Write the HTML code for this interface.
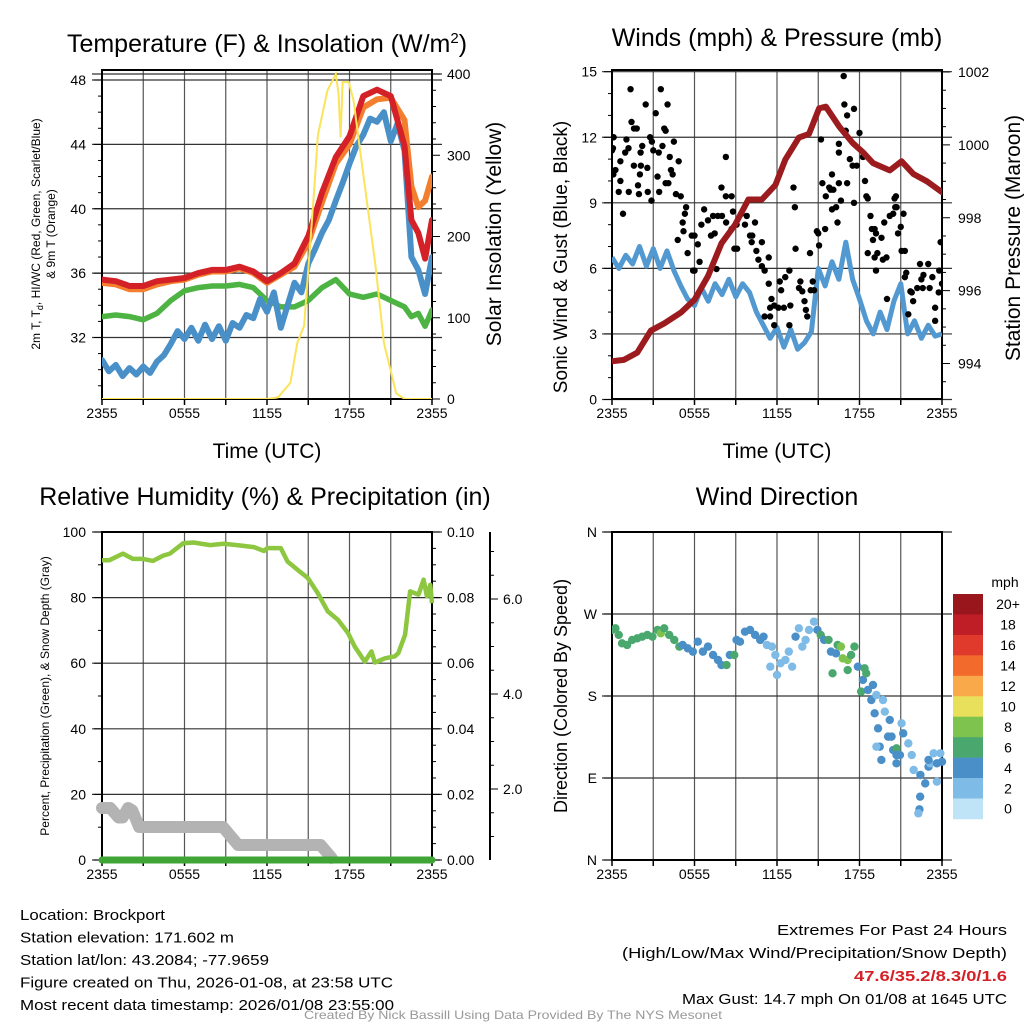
<!DOCTYPE html>
<html><head><meta charset="utf-8"><title>Mesonet Meteogram</title>
<style>
html,body{margin:0;padding:0;background:#fff;}
svg{display:block;font-family:"Liberation Sans",Arial,sans-serif;}
</style></head>
<body>
<svg id="chart" width="1024" height="1024" viewBox="0 0 1024 1024" xmlns="http://www.w3.org/2000/svg"></svg>
<script>
// ===== Panel 1 data: temperatures (F) and insolation =====
const tHours = [0,1,2,3,4,5,6,7,8,9,10,11,12,13,14,15,16,17,18,19,20,21,22,22.5,23,23.5,24];
const tempRed = [35.6,35.5,35.2,35.2,35.5,35.6,35.7,36.0,36.2,36.2,36.4,36.1,35.5,36.0,36.6,38.3,41.0,43.2,44.5,47.0,47.4,47.0,43.9,39.3,38.5,36.9,39.3];
const tempOrange = [35.4,35.3,35.0,35.0,35.3,35.5,35.6,35.9,36.1,36.1,36.3,36.0,35.4,35.9,36.4,37.9,40.4,42.8,44.0,46.3,46.8,46.9,45.5,41.4,40.1,40.5,42.0];
const tempGreen = [33.3,33.4,33.3,33.1,33.5,34.3,34.9,35.1,35.2,35.2,35.3,35.1,34.3,33.9,33.9,34.3,35.1,35.6,34.7,34.5,34.7,34.3,33.9,33.3,33.5,32.7,33.7];
const blueHours = [0,0.5,1,1.5,2,2.5,3,3.5,4,4.5,5,5.5,6,6.5,7,7.5,8,8.5,9,9.5,10,10.5,11,11.5,12,12.5,13,13.5,14,14.5,15,15.5,16,16.5,17,17.5,18,18.5,19,19.5,20,20.5,21,21.5,22,22.5,23,23.5,24];
const tempBlue = [30.6,29.9,30.3,29.6,30.1,29.7,30.2,29.8,30.5,30.9,31.6,32.4,31.9,32.6,31.8,32.8,31.9,32.7,31.8,32.9,32.6,33.4,33.2,34.4,33.6,34.8,32.6,34.0,35.4,34.8,36.6,37.5,38.5,39.3,40.5,41.6,42.8,43.9,44.6,45.6,45.4,46.0,44.2,45.3,43.6,37.0,36.2,34.7,37.0];
const solHours = [0,12,12.8,13.7,14.2,14.7,15.4,15.7,16.4,17.0,17.2,17.35,17.5,17.95,18.3,18.7,19.9,20.5,21.4,22,24];
const solar = [0,0,2,20,69,90,251,325,380,400,376,322,390,390,367,315,163,69,7,0,0];
const p1Ticks = [32,36,40,44,48];
const p1RTicks = [0,100,200,300,400];
const xTickHours = [0,6,12,18,24];
const xTickLabels = ["2355","0555","1155","1755","2355"];

// ===== Panel 2 data: wind, gust, pressure =====
const windHours = [0,0.5,1,1.5,2,2.5,3,3.5,4,4.5,5,5.5,6,6.5,7,7.5,8,8.5,9,9.5,10,10.5,11,11.5,12,12.5,13,13.5,14,14.5,15,15.5,16,16.5,17,17.5,18,18.5,19,19.5,20,20.5,21,21.5,22,22.5,23,23.5,24];
const wind = [6.5,6.0,6.6,6.2,7.0,6.1,6.9,6.0,6.8,5.9,5.2,4.6,4.3,5.1,4.5,5.3,4.8,5.5,4.7,5.3,4.9,4.0,3.4,2.8,3.3,2.4,3.2,2.3,2.6,3.1,6.0,5.2,6.3,5.5,7.2,5.5,4.6,3.6,3.0,4.0,3.2,4.5,5.3,3.0,3.6,2.8,3.4,2.9,3.0];
const gustH = [1.35,3.55,2.45,4.04,3.18,1.42,1.6,1.8,3.8,3.9,0.12,0,0.07,1.05,2.77,4.5,2.9,3.67,0.96,1.2,2.2,2.08,3.0,3.4,4.2,0.61,4.85,1.59,2.1,2.57,4.29,0.25,0.1,0.61,2.03,3.31,4.41,1.89,3.9,4.1,0.49,1.22,1.96,2.6,3.43,2.87,4.65,5.0,0.8,8.28,7.96,8.28,8.7,
5.39,5.3,5.14,4.78,5.2,5.8,6.0,6.7,6.5,6.98,7.35,7.47,7.2,7.7,8.0,8.3,6.24,6.37,6.0,5.9,5.5,7.6,8.9,9.1,8.7,8.8,9.06,9.4,9.67,9.8,10.04,10.2,10.16,10.4,10.9,10.5,10.65,11.4,10.9,11.1,11.4,11.6,11.5,11.8,11.1,11.5,11.8,12.2,12.3,12.6,12.9,12.1,12.5,12.97,12.9,13.35,13.3,13.2,13.6,13.7,13.84,14.1,14.2,14.0,14.4,14.45,14.7,14.6,15.0,15.06,14.9,
15.2,15.3,15.5,15.55,15.8,16.0,15.9,16.0,16.1,16.3,16.4,16.5,16.5,16.5,16.65,16.85,16.9,17.0,17.1,17.3,17.1,17.6,17.5,17.8,17.6,18.0,18.25,18.5,18.6,18.8,18.4,18.6,18.9,19.1,18.98,19.2,19.1,19.2,19.3,19.7,19.6,19.8,19.96,20.0,20.2,20.45,20.6,20.65,20.55,20.8,20.7,21.06,21.0,21.2,21.3,21.3,21.4,21.55,21.7,21.8,21.9,22.2,22.4,22.5,22.65,22.6,23.0,23.1,23.3,23.5,23.5,23.8,23.76,24.0,23.9];
const gustV = [14.2,14.2,13.5,13.5,13.1,12.7,12.4,12.4,12.4,12.3,12.0,11.4,11.5,11.9,12.0,11.8,11.8,11.6,11.3,11.5,11.6,11.3,11.4,11.3,11.1,10.9,10.9,10.7,10.7,10.6,10.5,10.5,10.3,10.0,10.3,10.2,10.3,9.8,9.9,9.9,9.5,9.5,9.4,9.5,9.5,9.1,9.4,9.3,8.5,11.1,9.7,9.3,9.3,
8.8,8.5,8.1,7.3,7.7,7.5,7.5,8.7,8.0,8.2,8.4,7.6,7.5,8.4,8.4,8.1,7.1,6.3,5.9,5.9,6.7,5.97,6.9,6.9,7.8,8.6,8.0,8.5,8.0,8.4,7.5,7.5,7.2,8.1,7.2,6.8,6.4,6.5,6.1,5.9,5.3,4.6,4.2,4.3,3.8,3.8,3.4,5.4,5.0,5.6,5.9,4.2,4.2,4.3,3.4,6.9,8.8,9.7,5.1,5.4,4.95,4.1,3.8,4.5,6.7,5.0,5.0,5.4,7.6,7.05,7.7,
11.9,9.9,7.8,9.3,9.7,10.3,9.6,8.7,9.6,8.8,8.1,9.9,11.3,11.7,9.1,14.8,13.5,12.3,13.0,11.0,9.9,13.3,10.7,10.7,9.0,12.2,11.1,9.3,9.2,8.4,10.0,6.7,7.8,7.8,7.3,7.6,6.5,5.9,6.7,6.4,7.4,8.1,6.5,4.6,8.4,8.5,8.8,9.3,9.2,7.6,8.8,6.8,7.9,8.5,6.8,5.6,5.8,3.9,4.95,4.9,4.5,5.1,6.2,5.5,5.7,5.1,6.2,5.1,5.6,4.2,3.6,5.9,4.9,5.3,7.2];
const presHours = [0,0.86,1.84,2.82,3.8,5.02,6.0,6.98,7.96,8.94,9.92,10.9,11.88,12.61,13.59,14.33,15.06,15.55,16.53,17.51,18.25,18.98,20.2,21.06,21.92,22.9,24];
const pressure = [994.06,994.1,994.3,994.9,995.1,995.4,995.75,996.4,997.3,997.8,998.5,998.5,998.9,999.6,1000.2,1000.3,1001.0,1001.05,1000.5,1000.05,999.8,999.5,999.3,999.55,999.2,999.0,998.7];
const p2Ticks = [0,3,6,9,12,15];
const p2RTicks = [994,996,998,1000,1002];

// ===== Panel 3 data: RH, precip, snow depth =====
const rhHours = [0,0.54,1.52,2.25,2.98,3.71,4.45,4.94,5.91,6.65,7.87,8.85,9.82,11.05,11.78,12.02,13.0,13.49,14.22,14.96,15.69,16.42,17.16,17.89,18.38,19.11,19.6,19.84,20.58,21.31,21.56,22.04,22.41,23.02,23.39,23.63,23.88,24];
const rh = [91.4,91.4,93.4,91.8,91.8,91.2,92.8,93.4,96.6,96.8,96.0,96.4,96.0,95.4,94.2,95.1,95.1,91.0,88.5,86.0,81.4,75.8,73.2,69.2,65.1,60.5,63.6,60.2,61.5,62.1,63.1,68.7,81.9,80.9,85.5,80.4,83.9,78.3];
const precipHours = [0,24];
const precip = [0,0];
const snowHours = [0,0.6,1.2,1.5,1.9,2.2,2.7,8.8,9.9,15.9,16.7];
const snowDepth = [1.6,1.6,1.4,1.4,1.6,1.55,1.2,1.2,0.82,0.82,0.55];
const p3Ticks = [0,20,40,60,80,100];
const p3RTicks = [0.00,0.02,0.04,0.06,0.08,0.10];
const snowTicks = [2.0,4.0,6.0];

// ===== Panel 4 data: wind direction colored by speed =====
const dirHours = [0,0.25,0.49,0.73,1.10,1.47,1.84,2.20,2.57,2.94,3.31,3.55,3.80,4.16,4.53,4.90,5.14,5.51,5.88,6.24,6.61,6.98,7.35,7.71,7.96,8.33,8.57,8.89,9.06,9.31,9.67,10.04,10.41,10.78,11.02,11.27,11.63,11.88,11.51,12.0,12.25,12.61,12.86,13.1,13.35,13.59,13.84,14.08,14.33,14.69,14.94,15.18,15.43,15.75,15.92,16.04,16.29,16.41,16.65,16.78,17.14,17.14,17.39,17.63,17.88,18.12,18.25,18.37,18.49,18.61,18.86,18.98,19.23,19.10,19.71,19.84,19.35,20.2,20.08,20.33,21.06,21.18,19.47,19.23,20.45,20.69,20.69,20.94,21.55,21.8,19.59,20.69,21.94,22.43,22.78,23.02,23.14,23.39,23.88,24.0,23.63,22.41,22.36,22.28,23.02,23.63];
const dirDeg = [252.5,254.3,247.0,237.8,236.0,241.5,243.3,245.1,247.0,245.1,252.5,248.8,254.3,247.0,241.5,234.2,236.0,232.3,228.7,239.6,228.7,234.2,225.0,219.5,214.0,214.0,225.0,225.0,241.5,239.6,250.6,252.5,247.0,241.5,245.1,236.0,234.2,225.0,212.2,203.1,215.9,219.5,228.7,212.2,245.1,254.3,234.2,241.5,252.5,261.6,252.5,247.0,241.5,241.5,228.7,204.9,226.8,236.0,234.2,221.3,219.5,208.5,225.0,234.2,212.2,184.8,197.6,210.4,204.9,186.6,175.6,192.1,181.1,161.0,175.6,162.8,144.5,153.7,135.4,135.4,150.0,139.0,124.4,124.4,120.7,122.6,115.2,115.2,128.0,115.2,109.8,106.1,98.8,93.3,84.1,102.4,106.1,117.1,117.1,107.9,86.0,69.5,55.6,51.2,109.8,106.1];
const dirSpeed = [6,6,6,6,6,6,6,6,6,6,6,8,6,6,6,6,4,4,4,4,4,4,4,4,4,6,4,6,4,4,4,4,4,4,4,2,2,2,2,2,2,2,2,2,4,2,2,2,2,2,4,6,4,6,4,6,4,6,8,8,8,6,6,6,4,6,4,6,6,4,4,4,2,4,2,2,4,4,4,4,2,4,4,2,4,6,4,4,2,2,4,4,2,4,4,4,2,2,2,4,2,4,4,2,4,4];
const dirTickDeg = [0,90,180,270,360];
const dirTickLabels = ["N","E","S","W","N"];
const cbLabels = ["20+","18","16","14","12","10","8","6","4","2","0"];
const cbColors = ["#99161c","#bf1e26","#e03a2c","#f26a2c","#f9a84a","#e8e05a","#7ec34e","#4aa86e","#4a8fc7","#7ebbe6","#bfe4f7"];

// ===== helpers =====
const NS = "http://www.w3.org/2000/svg";
const svg = document.getElementById("chart");
function mk(tag, attrs, parent){
  const e = document.createElementNS(NS, tag);
  for (const k in attrs) e.setAttribute(k, attrs[k]);
  (parent||svg).appendChild(e);
  return e;
}
function txt(str, x, y, size, anchor, parent, extra){
  const a = {x:x, y:y, "font-size":size, "text-anchor":anchor||"middle", fill:"#000"};
  if (extra) for (const k in extra) a[k]=extra[k];
  const t = mk("text", a, parent);
  t.textContent = str;
  return t;
}
function lin(d0,d1,r0,r1){ return v => r0 + (v-d0)*(r1-r0)/(d1-d0); }
function pathFrom(xs, ys, fx, fy){
  let d=""; for(let i=0;i<xs.length;i++){ d += (i?"L":"M")+fx(xs[i]).toFixed(1)+","+fy(ys[i]).toFixed(1); } return d;
}
function grid(g, L, R, T, B, fx, hLines){
  for (let h=3; h<24; h+=3){
    const l = mk("line",{x1:fx(h),x2:fx(h),y1:T,y2:B,stroke:"#555","stroke-width":1.2},g);
    
    
  }
  hLines.forEach(y=>{
    const l = mk("line",{x1:L-10,x2:R+10,y1:y,y2:y,stroke:"#333","stroke-width":1.2},g);
    
    
  });
}
function frame(g, L, R, T, B){
  const r = mk("rect",{x:L,y:T,width:R-L,height:B-T,fill:"none",stroke:"#000","stroke-width":2},g);
  
  
}
function xAxis(g, L, R, B, fx){
  for (let h=0; h<=24; h+=3){
    mk("line",{x1:fx(h),x2:fx(h),y1:B,y2:B+6,stroke:"#000","stroke-width":1.5},g);
  }
  xTickHours.forEach((h,i)=>{
    const t = txt(xTickLabels[i], fx(h), B+19, 14, "middle", g);
    
    
  });
}

// ===== Panel 1 =====
(function(){
  const L=102,R=432,T=70,B=399;
  const g = mk("g",{});
  
  
  const fx = lin(0,24,L,R);
  const fy = lin(32,48,337.5,80);
  const fs = lin(0,400,399,74);
  grid(g,L,R,T,B,fx,p1Ticks.map(fy).concat([74]));
  frame(g,L,R,T,B);
  xAxis(g,L,R,B,fx);
  for (let v=29; v<=48; v++){ mk("line",{x1:L-(v%4===0?8:4),x2:L,y1:fy(v),y2:fy(v),stroke:"#000","stroke-width":1},g); }
  p1Ticks.forEach(v=>{ const t=txt(String(v),86,fy(v)+5,14,"end",g);   });
  for (let v=0; v<=400; v+=20){ mk("line",{x1:R,x2:R+(v%100===0?8:4),y1:fs(v),y2:fs(v),stroke:"#000","stroke-width":1},g); }
  p1RTicks.forEach(v=>{ const t=txt(String(v),447,fs(v)+5,14,"start",g);   });
  const clip = mk("clipPath",{id:"c1"},g); mk("rect",{x:L,y:T,width:R-L,height:B-T},clip);
  const sg = mk("g",{"clip-path":"url(#c1)"},g);
  const series = [[tHours,tempGreen,"#4db343","temp-green-line",5.5],[blueHours,tempBlue,"#4a90c8","temp-blue-line",6],[tHours,tempOrange,"#f37f2e","temp-orange-line",6],[tHours,tempRed,"#d42127","temp-red-line",6]];
  series.forEach(s=>{
    const p = mk("path",{d:pathFrom(s[0],s[1],fx,fy),fill:"none",stroke:s[2],"stroke-width":s[4],"stroke-linejoin":"round","stroke-linecap":"round"},sg);
    
    
  });
  const ps = mk("path",{d:pathFrom(solHours,solar,fx,fs),fill:"none",stroke:"#fbe35a","stroke-width":2},sg);
  
  
  const title = mk("text",{x:267,y:52,"font-size":25,"text-anchor":"middle"},g);
  title.innerHTML = 'Temperature (F) &amp; Insolation (W/m<tspan dy="-9" font-size="15">2</tspan><tspan dy="9">)</tspan>';
  
  
  const xt = txt("Time (UTC)",267,458,21,"middle",g);  
  const yt = mk("text",{transform:"translate(40,234) rotate(-90)","font-size":12,"text-anchor":"middle"},g);
  yt.innerHTML = '2m T, T<tspan dy="3" font-size="9">d</tspan><tspan dy="-3">, HI/WC (Red, Green, Scarlet/Blue)</tspan>';
  
  
  const yt2 = txt("& 9m T (Orange)",0,0,12,"middle",g,{transform:"translate(55,234) rotate(-90)"});
  
  
  const rt = txt("Solar Insolation (Yellow)",0,0,21,"middle",g,{transform:"translate(501,234) rotate(-90)"});
  
  
})();

// ===== Panel 2 =====
(function(){
  const L=612,R=942,T=70,B=399;
  const g = mk("g",{});
  
  
  const fx = lin(0,24,L,R);
  const fy = lin(0,15,399.5,71.7);
  const fp = lin(994,1002,363.5,72);
  grid(g,L,R,T,B,fx,p2Ticks.map(fy));
  frame(g,L,R,T,B);
  xAxis(g,L,R,B,fx);
  for (let v=0; v<=15; v++){ mk("line",{x1:L-(v%3===0?8:4),x2:L,y1:fy(v),y2:fy(v),stroke:"#000","stroke-width":1},g); }
  p2Ticks.forEach(v=>{ const t=txt(String(v),597,fy(v)+5,14,"end",g);   });
  for (let v=993; v<=1002; v+=0.5){ if(fp(v)<=B) mk("line",{x1:R,x2:R+(v%2===0?8:4),y1:fp(v),y2:fp(v),stroke:"#000","stroke-width":1},g); }
  p2RTicks.forEach(v=>{ const t=txt(String(v),958,fp(v)+5,14,"start",g);   });
  const clip = mk("clipPath",{id:"c2"},g); mk("rect",{x:L,y:T,width:R-L,height:B-T},clip);
  const sg = mk("g",{"clip-path":"url(#c2)"},g);
  const pw = mk("path",{d:pathFrom(windHours,wind,fx,fy),fill:"none",stroke:"#5298d1","stroke-width":5,"stroke-linejoin":"round"},sg);
  
  
  gustH.forEach((h,i)=>{
    const c = mk("circle",{cx:fx(h),cy:fy(gustV[i]),r:3.2,fill:"#000"},sg);
    
    
  });
  const pp = mk("path",{d:pathFrom(presHours,pressure,fx,fp),fill:"none",stroke:"#9b1b1e","stroke-width":6,"stroke-linejoin":"round","stroke-linecap":"round"},sg);
  
  
  const title = txt("Winds (mph) & Pressure (mb)",777,46,25,"middle",g);  
  const xt = txt("Time (UTC)",777,458,21,"middle",g);  
  const yt = txt("Sonic Wind & Gust (Blue, Black)",0,0,19,"middle",g,{transform:"translate(567,257) rotate(-90)"});  
  const rt = txt("Station Pressure (Maroon)",0,0,21,"middle",g,{transform:"translate(1020,238) rotate(-90)"});  
})();

// ===== Panel 3 =====
(function(){
  const L=102,R=432,T=532,B=860;
  const g = mk("g",{});
  
  
  const fx = lin(0,24,L,R);
  const fy = lin(0,100,B,T);
  const fr = lin(0,0.10,B,T);
  const fsn = lin(0,6,884,599);
  grid(g,L,R,T,B,fx,p3Ticks.map(fy));
  frame(g,L,R,T,B);
  xAxis(g,L,R,B,fx);
  for (let v=0; v<=100; v+=10){ mk("line",{x1:L-(v%20===0?8:4),x2:L,y1:fy(v),y2:fy(v),stroke:"#000","stroke-width":1},g); }
  p3Ticks.forEach(v=>{ const t=txt(String(v),86,fy(v)+5,14,"end",g);   });
  for (let v=0; v<=100; v+=5){ mk("line",{x1:R,x2:R+(v%20===0?8:4),y1:fy(v),y2:fy(v),stroke:"#000","stroke-width":1},g); }
  p3RTicks.forEach(v=>{ const t=txt(v.toFixed(2),447,fr(v)+5,14,"start",g);   });
  const ax = mk("line",{x1:490,x2:490,y1:T,y2:B,stroke:"#000","stroke-width":2},g);
  
  
  for (let v=0.5; v<=7; v+=0.5){ const y=fsn(v); if(y>=T&&y<=B) mk("line",{x1:490,x2:490+(v%2===0?8:4),y1:y,y2:y,stroke:"#000","stroke-width":1},g); }
  snowTicks.forEach(v=>{ const t=txt(v.toFixed(1),503,fsn(v)+5,14,"start",g);   });
  const clip = mk("clipPath",{id:"c3"},g); mk("rect",{x:L-6,y:T,width:R-L+12,height:B-T+6},clip);
  const sg = mk("g",{"clip-path":"url(#c3)"},g);
  const psn = mk("path",{d:pathFrom(snowHours,snowDepth,fx,fsn),fill:"none",stroke:"#b3b3b3","stroke-width":12,"stroke-linejoin":"round","stroke-linecap":"round"},sg);
  
  
  const ppr = mk("path",{d:pathFrom(precipHours,precip,fx,fr),fill:"none",stroke:"#3fa535","stroke-width":7,"stroke-linecap":"round"},sg);
  
  
  const prh = mk("path",{d:pathFrom(rhHours,rh,fx,fy),fill:"none",stroke:"#8dc63f","stroke-width":4.5,"stroke-linejoin":"round"},sg);
  
  
  const title = txt("Relative Humidity (%) & Precipitation (in)",265,505,25,"middle",g);  
  const yt = txt("Percent, Precipitation (Green), & Snow Depth (Gray)",0,0,12,"middle",g,{transform:"translate(49,696) rotate(-90)"});  
})();

// ===== Panel 4 =====
(function(){
  const L=612,R=942,T=532,B=860;
  const g = mk("g",{});
  
  
  const fx = lin(0,24,L,R);
  const fy = lin(0,360,B,T);
  grid(g,L,R,T,B,fx,dirTickDeg.map(fy));
  frame(g,L,R,T,B);
  xAxis(g,L,R,B,fx);
  dirTickDeg.forEach((v,i)=>{
    mk("line",{x1:L-8,x2:L,y1:fy(v),y2:fy(v),stroke:"#000","stroke-width":1},g);
    const t=txt(dirTickLabels[i],597,fy(v)+5,14,"end",g);  
  });
  const clip = mk("clipPath",{id:"c4"},g); mk("rect",{x:L,y:T,width:R-L+6,height:B-T},clip);
  const sg = mk("g",{"clip-path":"url(#c4)"},g);
  dirHours.forEach((h,i)=>{
    const idx = Math.max(0, Math.min(10, 10 - Math.round(dirSpeed[i]/2)));
    const c = mk("circle",{cx:fx(h),cy:fy(dirDeg[i]),r:4.2,fill:cbColors[idx]},sg);
    
    
  });
  const title = txt("Wind Direction",777,505,25,"middle",g);  
  const yt = txt("Direction (Colored By Speed)",0,0,18,"middle",g,{transform:"translate(567,696) rotate(-90)"});  
  const cb = mk("g",{},g);
  
  
  const unit = txt("mph",1005,587,14,"middle",cb);  
  const h0=594, bh=20.45;
  cbLabels.forEach((lab,i)=>{
    const r = mk("rect",{x:953,y:h0+i*bh,width:30,height:bh+0.3,fill:cbColors[i]},cb);
    
    
    const t = txt(lab,1008,h0+i*bh+bh/2+5,14,"middle",cb);  
  });
})();

// ===== Footer text =====
(function(){
  const g = mk("g",{});
  
  
  const left = ["Location: Brockport","Station elevation: 171.602 m","Station lat/lon: 43.2084; -77.9659","Figure created on Thu, 2026-01-08, at 23:58 UTC","Most recent data timestamp: 2026/01/08 23:55:00"];
  const leftW = [145,214,249,373,374];
  left.forEach((s,i)=>{ const t=txt(s,20,920+i*22.5,15,"start",g,{textLength:leftW[i],lengthAdjust:"spacingAndGlyphs"});   });
  const t1=txt("Extremes For Past 24 Hours",1007,935,15,"end",g,{textLength:230,lengthAdjust:"spacingAndGlyphs"});  
  const t2=txt("(High/Low/Max Wind/Precipitation/Snow Depth)",1007,958,15,"end",g,{textLength:385,lengthAdjust:"spacingAndGlyphs"});  
  const t3=txt("47.6/35.2/8.3/0/1.6",1007,981,15,"end",g,{fill:"#d42127","font-weight":"bold",textLength:153,lengthAdjust:"spacingAndGlyphs"});  
  const t4=txt("Max Gust: 14.7 mph On 01/08 at 1645 UTC",1007,1004,15,"end",g,{textLength:325,lengthAdjust:"spacingAndGlyphs"});  
  const t5=txt("Created By Nick Bassill Using Data Provided By The NYS Mesonet",513,1019,12,"middle",g,{fill:"#999",textLength:418,lengthAdjust:"spacingAndGlyphs"});  
})();
</script>
</body></html>
